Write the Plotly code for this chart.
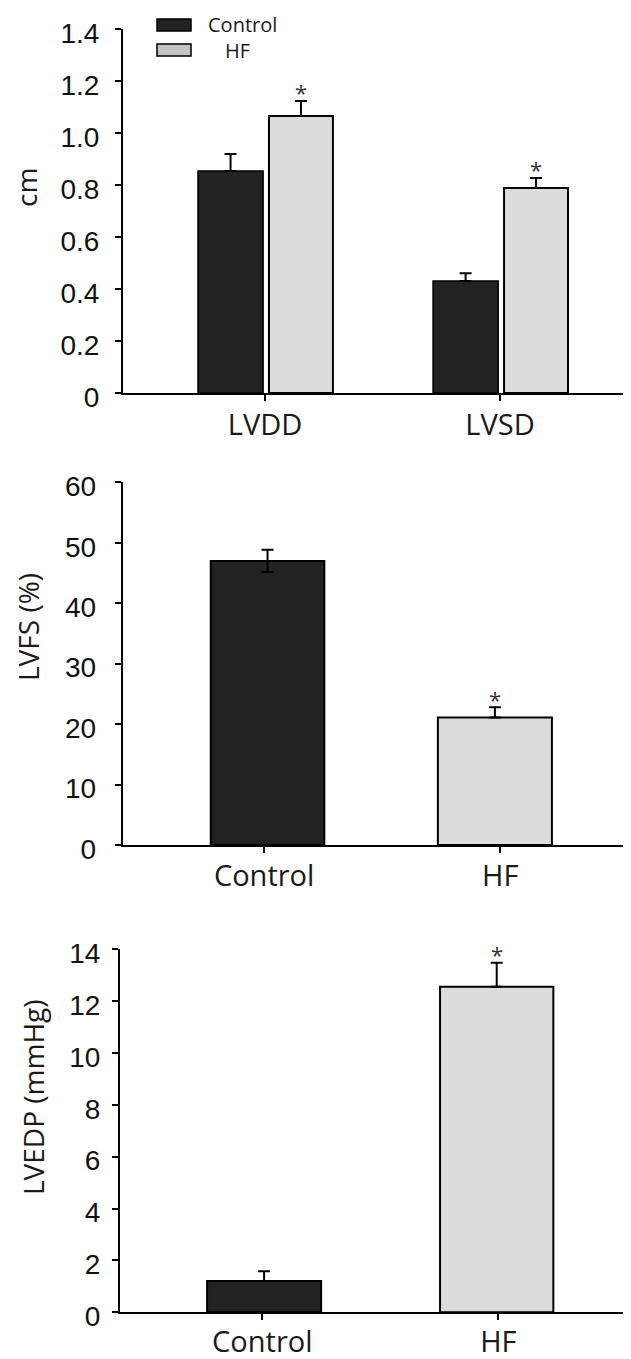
import plotly.graph_objects as go

# page body has an 8px default margin: figure starts at (8, 8)
OFF = 8
W, H = 631 - OFF, 1359 - OFF

# ---------------- data ----------------
groups_top = ["LVDD", "LVSD"]
control_top = [0.854, 0.431]
control_top_err = [0.065, 0.030]
hf_top = [1.065, 0.788]
hf_top_err = [0.058, 0.039]

groups_mid = ["Control", "HF"]
lvfs = [47.0, 21.1]
lvfs_err = [1.85, 1.7]

groups_bot = ["Control", "HF"]
lvedp = [1.21, 12.55]
lvedp_err = [0.37, 0.92]

y_top_ticks = [0, 0.2, 0.4, 0.6, 0.8, 1.0, 1.2, 1.4]
y_top_text = ["0", "0.2", "0.4", "0.6", "0.8", "1.0", "1.2", "1.4"]
y_mid_ticks = [0, 10, 20, 30, 40, 50, 60]
y_bot_ticks = [0, 2, 4, 6, 8, 10, 12, 14]

DARK = "#222222"
LIGHT = "#dcdcdc"
TICKFONT = dict(family="Liberation Sans, Arial, sans-serif", size=28, color="#111111")
CATFONT = dict(family="Open Sans, Noto Sans, sans-serif", size=29, color="#1a1a1a")
TITLEFONT = dict(family="Open Sans, Noto Sans, sans-serif", size=28, color="#1a1a1a")


def px_x(x):
    return (x - OFF) / W


def px_y(y):
    return 1 - (y - OFF) / H


fig = go.Figure()

# ---- top panel (grouped) ----
xi = list(range(len(groups_top)))
fig.add_trace(go.Bar(
    x=xi, y=control_top, width=0.277, offset=-0.285,
    marker=dict(color=DARK, line=dict(color="#000000", width=1.5)),
    error_y=dict(type="data", array=control_top_err, arrayminus=[0, 0],
                 color="#000000", thickness=2, width=6),
    xaxis="x", yaxis="y", showlegend=False, name="Control"))
fig.add_trace(go.Bar(
    x=xi, y=hf_top, width=0.272, offset=0.017,
    marker=dict(color=LIGHT, line=dict(color="#000000", width=2)),
    error_y=dict(type="data", array=hf_top_err, arrayminus=[0, 0],
                 color="#000000", thickness=2, width=6),
    xaxis="x", yaxis="y", showlegend=False, name="HF"))

# ---- middle panel ----
fig.add_trace(go.Bar(
    x=[0], y=[lvfs[0]], width=0.481, offset=-0.226,
    marker=dict(color=DARK, line=dict(color="#000000", width=2)),
    error_y=dict(type="data", array=[lvfs_err[0]], color="#000000", thickness=2, width=6),
    xaxis="x2", yaxis="y2", showlegend=False))
fig.add_trace(go.Bar(
    x=[1], y=[lvfs[1]], width=0.483, offset=-0.264,
    marker=dict(color=LIGHT, line=dict(color="#000000", width=2)),
    error_y=dict(type="data", array=[lvfs_err[1]], arrayminus=[0], color="#000000", thickness=2, width=6),
    xaxis="x2", yaxis="y2", showlegend=False))

# ---- bottom panel ----
fig.add_trace(go.Bar(
    x=[0], y=[lvedp[0]], width=0.483, offset=-0.234,
    marker=dict(color=DARK, line=dict(color="#000000", width=2)),
    error_y=dict(type="data", array=[lvedp_err[0]], arrayminus=[0], color="#000000", thickness=2, width=6),
    xaxis="x3", yaxis="y3", showlegend=False))
fig.add_trace(go.Bar(
    x=[1], y=[lvedp[1]], width=0.48, offset=-0.247,
    marker=dict(color=LIGHT, line=dict(color="#000000", width=2)),
    error_y=dict(type="data", array=[lvedp_err[1]], arrayminus=[0], color="#000000", thickness=2, width=6),
    xaxis="x3", yaxis="y3", showlegend=False))

axis_common = dict(showgrid=False, zeroline=False, showline=True, linecolor="#000000",
                   linewidth=2, ticks="outside", ticklen=6, tickwidth=1.5, tickcolor="#000000",
                   automargin=False)

fig.update_layout(
    template="none",
    width=W, height=H,
    margin=dict(l=0, r=0, t=0, b=0, pad=0),
    paper_bgcolor="white", plot_bgcolor="white",
    barmode="overlay",
    xaxis=dict(domain=[px_x(123), 1], range=[-0.604, 1.557], anchor="y",
               tickvals=xi, ticktext=groups_top, tickfont=CATFONT, ticklabelstandoff=-1,
               **axis_common),
    yaxis=dict(domain=[px_y(393), px_y(29)], range=[0, 1.4], anchor="x",
               tickvals=y_top_ticks, ticktext=y_top_text, tickfont=TICKFONT,
               ticklabelstandoff=10, ticklabelshift=4, **axis_common),
    xaxis2=dict(domain=[px_x(122.7), 1], range=[-0.599, 1.554], anchor="y2",
                tickvals=[0, 1], ticktext=groups_mid, tickfont=CATFONT, ticklabelstandoff=-2,
                **axis_common),
    yaxis2=dict(domain=[px_y(845), px_y(482.3)], range=[0, 60], anchor="x2",
                tickvals=y_mid_ticks, tickfont=TICKFONT, ticklabelstandoff=13,
                ticklabelshift=4, **axis_common),
    xaxis3=dict(domain=[px_x(120), 1], range=[-0.603, 1.562], anchor="y3",
                tickvals=[0, 1], ticktext=groups_bot, tickfont=CATFONT, ticklabelstandoff=-3,
                **axis_common),
    yaxis3=dict(domain=[px_y(1312.3), px_y(949)], range=[0, 14], anchor="x3",
                tickvals=y_bot_ticks, tickfont=TICKFONT, ticklabelstandoff=6,
                ticklabelshift=4, **axis_common),
)

# significance asterisks
star = dict(text="*", showarrow=False, yanchor="middle",
            font=dict(family="Open Sans, sans-serif", size=22, color="#333333"))
fig.add_annotation(x=0 + 0.017 + 0.136, y=hf_top[0] + hf_top_err[0], xref="x", yref="y", yshift=9, **star)
fig.add_annotation(x=1 + 0.017 + 0.136, y=hf_top[1] + hf_top_err[1], xref="x", yref="y", yshift=9, **star)
fig.add_annotation(x=1 - 0.264 + 0.2415, y=lvfs[1] + lvfs_err[1], xref="x2", yref="y2", yshift=8, **star)
fig.add_annotation(x=1 - 0.247 + 0.24, y=lvedp[1] + lvedp_err[1], xref="x3", yref="y3", yshift=9, **star)

# y-axis titles
title_common = dict(xref="paper", yref="paper", textangle=-90, showarrow=False,
                    xanchor="center", yanchor="middle", borderpad=0, font=TITLEFONT)
fig.add_annotation(text="cm", x=px_x(26), y=px_y(188), **title_common)
fig.add_annotation(text="LVFS (%)", x=px_x(28), y=px_y(627), **title_common)
fig.add_annotation(text="LVEDP (mmHg)", x=px_x(33), y=px_y(1097), **title_common)

# legend (top panel)
legend_items = [("Control", DARK, 19, 31, 206), ("HF", "#c4c4c4", 44, 56, 223)]
for label, col, y0, y1, tx in legend_items:
    fig.add_shape(type="rect", xref="paper", yref="paper",
                  x0=px_x(157), x1=px_x(191), y0=px_y(y1), y1=px_y(y0),
                  fillcolor=col, line=dict(color="#000000", width=1.5))
    fig.add_annotation(text=label, x=px_x(tx), y=px_y((y0 + y1) / 2), xref="paper", yref="paper",
                       xanchor="left", yanchor="middle", showarrow=False,
                       font=dict(family="Open Sans, sans-serif", size=20, color="#1a1a1a"))

fig.write_html("out.html")
